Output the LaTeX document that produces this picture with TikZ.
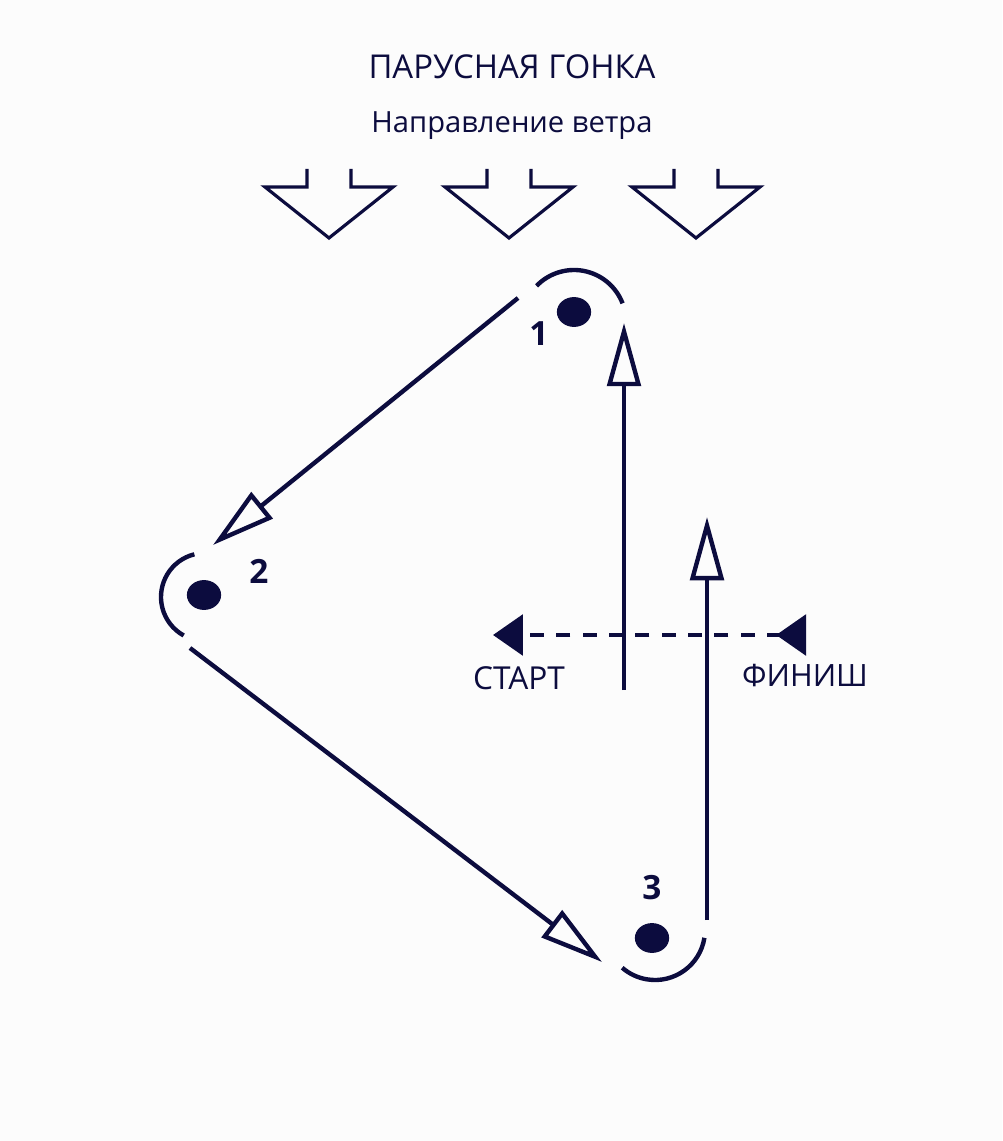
\documentclass[tikz,border=0pt]{standalone}
\usepackage{fontspec}
\setmainfont{Open Sans}
\usepackage{tikz}
\usetikzlibrary{positioning,arrows.meta,shapes}
\usepackage{xcolor}
\definecolor{navy}{RGB}{12,12,62}
\definecolor{paper}{RGB}{252,252,252}

\begin{document}
\begin{tikzpicture}[
        x=0.02cm, y=-0.02cm,
        course/.style={draw=navy, line width=2.5pt},
        leg/.style={course, -{Triangle[open, length=36pt, width=19pt, line width=2.5pt]}},
        wind/.style={draw=navy, line width=1.8pt, miter limit=10},
        buoy/.style={ellipse, fill=navy, minimum width=19.5pt, minimum height=17pt, inner sep=0pt},
        rounding/.style={draw=navy, line width=2.5pt},
        line/.style={draw=navy, line width=2.5pt, dash pattern=on 8pt off 7pt,
            {Triangle[reversed, length=17pt, width=23pt]}-{Triangle[length=17pt, width=23pt]}},
        caption/.style={text=navy, font=\fontsize{16.6}{20}\selectfont},
        number/.style={text=navy, font=\fontsize{19}{22}\selectfont\bfseries}
    ]
        \useasboundingbox[fill=paper] (0,0) rectangle (1002,1141);

        % Title
        \node[caption, font=\fontsize{18.7}{22}\selectfont] (title) at (512,67) {ПАРУСНАЯ ГОНКА};
        \node[caption] (wind) at (512,126) {Направление ветра};

        % Wind arrows
        \foreach \x in {329,509,696}
            \draw[wind] (\x-22,169) -- (\x-22,187) -- (\x-64,187) -- (\x,238)
                -- (\x+64,187) -- (\x+22,187) -- (\x+22,169);

        % Marks
        \node[buoy] (m1) at (574,312) {};
        \node[buoy] (m2) at (204,595) {};
        \node[buoy] (m3) at (652,938) {};
        \node[number] (n1) at (539,334) {1};
        \node[number] (n2) at (259,571) {2};
        \node[number] (n3) at (652,888) {3};

        % Rounding arcs
        \coordinate (c1) at (574,322);
        \coordinate (c2) at (205,597);
        \coordinate (c3) at (655,930);
        \draw[rounding] (c1) ++(-136:52) arc[start angle=-136, end angle=-21, radius=52];
        \draw[rounding] (c2) ++(256:44) arc[start angle=256, end angle=119, radius=44];
        \draw[rounding] (c3) ++(9:50) arc[start angle=9, end angle=131, radius=50];

        % Start and finish line
        \coordinate (finish) at (806,635);
        \coordinate (start) at (493,635);
        \draw[line] (finish) -- (start);
        \node[caption, font=\fontsize{18}{21}\selectfont] (startlabel) at (519,678) {СТАРТ};
        \node[caption, font=\fontsize{17.5}{21}\selectfont] (finishlabel) at (805,676) {ФИНИШ};

        % Legs
        \coordinate (s0) at (624,690);
        \coordinate (e0) at (624,323);
        \coordinate (s1) at (518,298);
        \coordinate (e1) at (213,545);
        \coordinate (s2) at (190,648);
        \coordinate (e2) at (602,962);
        \coordinate (s3) at (707,920);
        \coordinate (e3) at (707,517);
        \draw[leg] (s0) -- (e0);
        \draw[leg] (s1) -- (e1);
        \draw[leg] (s2) -- (e2);
        \draw[leg] (s3) -- (e3);
    \end{tikzpicture}
\end{document}
